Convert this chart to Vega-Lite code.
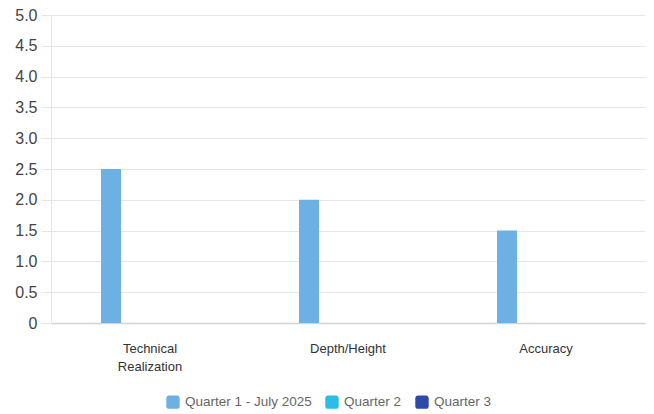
{
  "$schema": "https://vega.github.io/schema/vega-lite/v6.json",
  "width": 594,
  "height": 308,
  "autosize": {"type": "none"},
  "padding": {"left": 51, "top": 15, "right": 9, "bottom": 91},
  "background": "white",
  "config": {
    "font": "Liberation Sans",
    "view": {"stroke": null}
  },
  "data": {
    "values": [
      {"criterion": "Technical Realization", "quarter": "Quarter 1 - July 2025", "score": 2.5},
      {"criterion": "Technical Realization", "quarter": "Quarter 2", "score": 0},
      {"criterion": "Technical Realization", "quarter": "Quarter 3", "score": 0},
      {"criterion": "Depth/Height", "quarter": "Quarter 1 - July 2025", "score": 2.0},
      {"criterion": "Depth/Height", "quarter": "Quarter 2", "score": 0},
      {"criterion": "Depth/Height", "quarter": "Quarter 3", "score": 0},
      {"criterion": "Accuracy", "quarter": "Quarter 1 - July 2025", "score": 1.5},
      {"criterion": "Accuracy", "quarter": "Quarter 2", "score": 0},
      {"criterion": "Accuracy", "quarter": "Quarter 3", "score": 0}
    ]
  },
  "mark": {"type": "bar"},
  "encoding": {
    "x": {
      "field": "criterion",
      "type": "nominal",
      "sort": ["Technical Realization", "Depth/Height", "Accuracy"],
      "scale": {"paddingInner": 0.2, "paddingOuter": 0.1},
      "axis": {
        "title": null,
        "labelAngle": 0,
        "labelExpr": "datum.value === 'Technical Realization' ? ['Technical', 'Realization'] : datum.value",
        "labelFontSize": 13,
        "labelColor": "#333333",
        "labelLineHeight": 18,
        "labelPadding": 19,
        "ticks": false,
        "domainColor": "#d4d4d4",
        "domainWidth": 1.5,
        "grid": false
      }
    },
    "xOffset": {
      "field": "quarter",
      "type": "nominal",
      "sort": ["Quarter 1 - July 2025", "Quarter 2", "Quarter 3"],
      "scale": {"paddingInner": 0.487, "paddingOuter": 0.774}
    },
    "y": {
      "field": "score",
      "type": "quantitative",
      "scale": {"domain": [0, 5], "nice": false},
      "axis": {
        "title": null,
        "values": [0, 0.5, 1, 1.5, 2, 2.5, 3, 3.5, 4, 4.5, 5],
        "labelExpr": "datum.value === 0 ? '0' : format(datum.value, '.1f')",
        "labelFontSize": 16,
        "labelColor": "#444444",
        "labelPadding": 4,
        "tickSize": 10,
        "tickColor": "#e6e6e6",
        "gridColor": "#e6e6e6",
        "domainColor": "#e6e6e6"
      }
    },
    "color": {
      "field": "quarter",
      "type": "nominal",
      "sort": ["Quarter 1 - July 2025", "Quarter 2", "Quarter 3"],
      "scale": {
        "domain": ["Quarter 1 - July 2025", "Quarter 2", "Quarter 3"],
        "range": ["#6cb0e4", "#2bbde8", "#2f4aa6"]
      },
      "legend": {
        "title": null,
        "orient": "none",
        "direction": "horizontal",
        "legendX": 115,
        "legendY": 380,
        "symbolType": "M-0.6,-1H0.6A0.4,0.4 0 0 1 1,-0.6V0.6A0.4,0.4 0 0 1 0.6,1H-0.6A0.4,0.4 0 0 1 -1,0.6V-0.6A0.4,0.4 0 0 1 -0.6,-1Z",
        "symbolSize": 180,
        "symbolStrokeWidth": 0,
        "labelFontSize": 13.5,
        "labelColor": "#666666",
        "labelOffset": 5,
        "columnPadding": 13
      }
    }
  }
}
